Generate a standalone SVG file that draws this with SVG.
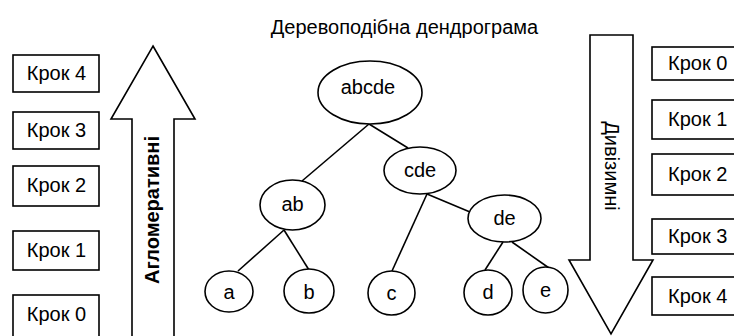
<svg xmlns="http://www.w3.org/2000/svg" width="734" height="336" viewBox="0 0 734 336">
<style>
text{font-family:"Liberation Sans",Arial,sans-serif;font-size:20px;fill:#000}
.box{fill:#fff;stroke:#000;stroke-width:1.6}
.node{fill:#fff;stroke:#000;stroke-width:1.6}
.edge{stroke:#000;stroke-width:1.6;fill:none}
.arrow{fill:#fff;stroke:#000;stroke-width:1.6;stroke-linejoin:miter}
.c{text-anchor:middle}
</style>
<rect width="734" height="336" fill="#fff"/>
<text class="c" x="404.5" y="34">Деревоподібна дендрограма</text>

<g id="left-steps">
<g id="l4"><rect class="box" x="13" y="55" width="86" height="37"/><text class="c" x="56.5" y="80">Крок 4</text></g>
<g id="l3"><rect class="box" x="13" y="112" width="86" height="37"/><text class="c" x="56.5" y="137">Крок 3</text></g>
<g id="l2"><rect class="box" x="13" y="166" width="86" height="40"/><text class="c" x="56.5" y="192">Крок 2</text></g>
<g id="l1"><rect class="box" x="13" y="231" width="86" height="39"/><text class="c" x="56.5" y="257">Крок 1</text></g>
<g id="l0"><rect class="box" x="13" y="295" width="86" height="60"/><text class="c" x="56.5" y="321">Крок 0</text></g>
</g>

<g id="agglomerative">
<polygon class="arrow" points="153,46 195,119 174,119 174,345 132,345 132,119 111,119"/>
<text class="c" x="159" y="210" font-weight="bold" transform="rotate(-90 159 210)">Агломеративні</text>
</g>

<g id="divisive">
<polygon class="arrow" points="590,35 633,35 633,260 653,260 611,334 569,260 590,260"/>
<text class="c" x="605" y="166" transform="rotate(90 605 166)">Дивізимні</text>
</g>

<g id="right-steps">
<g id="r0"><rect class="box" x="652" y="47" width="100" height="33"/><text x="668" y="70">Крок 0</text></g>
<g id="r1"><rect class="box" x="652" y="100" width="100" height="39"/><text x="668" y="126">Крок 1</text></g>
<g id="r2"><rect class="box" x="652" y="154" width="100" height="41"/><text x="668" y="181">Крок 2</text></g>
<g id="r3"><rect class="box" x="652" y="219" width="100" height="35"/><text x="668" y="243">Крок 3</text></g>
<g id="r4"><rect class="box" x="652" y="277" width="100" height="38"/><text x="668" y="303">Крок 4</text></g>
</g>

<g id="connectors">
<line class="edge" x1="369" y1="124" x2="302" y2="181"/>
<line class="edge" x1="369" y1="124" x2="408" y2="148"/>
<line class="edge" x1="284" y1="230" x2="238" y2="271"/>
<line class="edge" x1="284" y1="230" x2="309" y2="270"/>
<line class="edge" x1="427" y1="194" x2="392" y2="271"/>
<line class="edge" x1="427" y1="194" x2="470" y2="212"/>
<line class="edge" x1="503" y1="242" x2="485" y2="270"/>
<line class="edge" x1="512" y1="242" x2="549" y2="268"/>
</g>

<g id="n-abcde"><ellipse class="node" cx="370" cy="92.5" rx="52" ry="31.5"/><text class="c" x="368" y="94">abcde</text></g>
<g id="n-ab"><ellipse class="node" cx="292.5" cy="205" rx="32.5" ry="25"/><text class="c" x="292.5" y="211">ab</text></g>
<g id="n-cde"><ellipse class="node" cx="420" cy="170.5" rx="36" ry="23.5"/><text class="c" x="420" y="177">cde</text></g>
<g id="n-de"><ellipse class="node" cx="504.5" cy="218.5" rx="36.5" ry="23.5"/><text class="c" x="504.5" y="225">de</text></g>
<g id="n-a"><ellipse class="node" cx="229" cy="291.5" rx="24" ry="20.5"/><text class="c" x="229" y="299">a</text></g>
<g id="n-b"><ellipse class="node" cx="309" cy="291" rx="25" ry="22"/><text class="c" x="309" y="299">b</text></g>
<g id="n-c"><ellipse class="node" cx="391.5" cy="293" rx="23.5" ry="22"/><text class="c" x="391.5" y="300">c</text></g>
<g id="n-d"><ellipse class="node" cx="488" cy="292.5" rx="24" ry="22.5"/><text class="c" x="488" y="299">d</text></g>
<g id="n-e"><ellipse class="node" cx="545.5" cy="290" rx="22.5" ry="23"/><text class="c" x="545.5" y="297">e</text></g>
</svg>
